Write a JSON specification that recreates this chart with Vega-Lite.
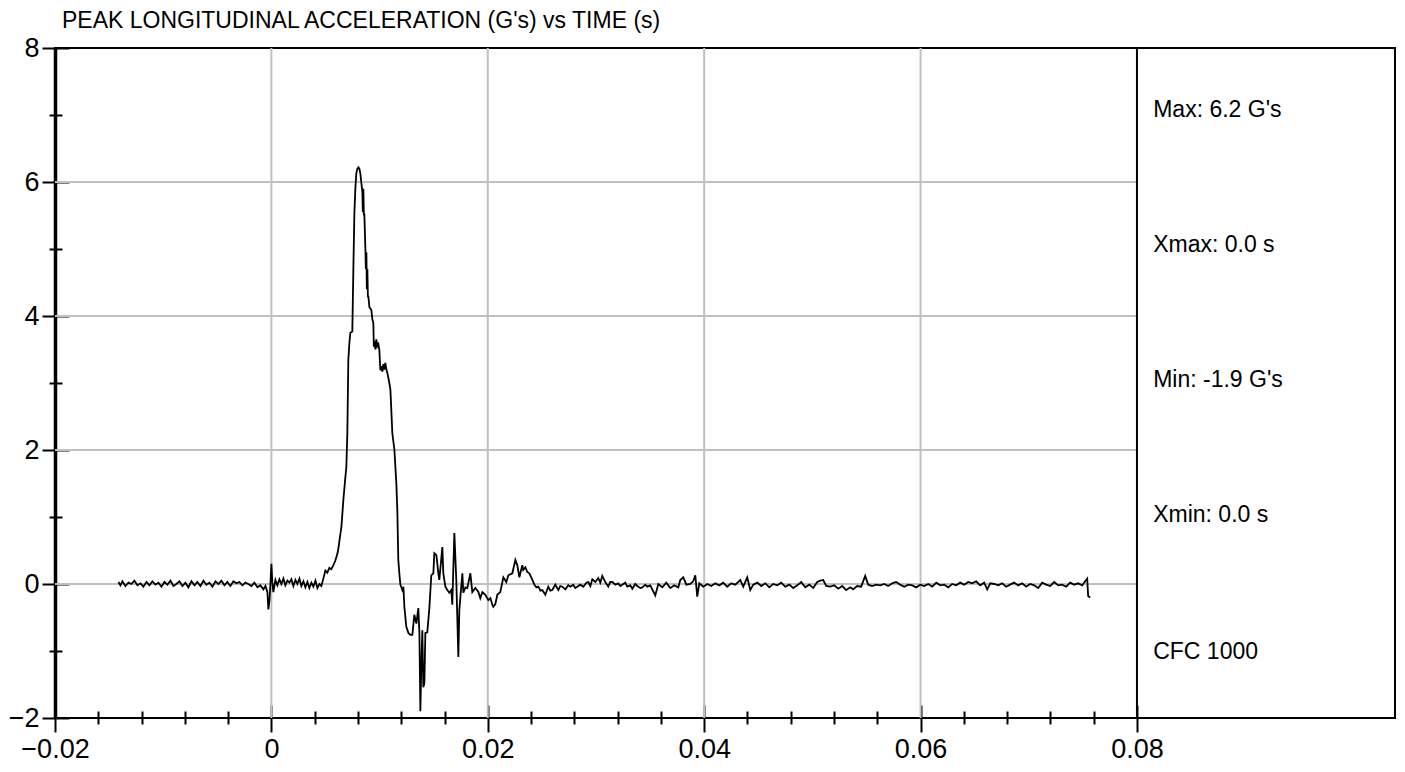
{
"$schema": "https://vega.github.io/schema/vega-lite/v6.json",
"width": 1340,
"height": 670,
"autosize": "none",
"padding": {"left": 55, "top": 48, "right": 10, "bottom": 54},
"background": "white",
"config": {"view": {"stroke": "black", "strokeWidth": 2}, "font": "Liberation Sans"},
"title": {"text": "PEAK LONGITUDINAL ACCELERATION (G's) vs TIME (s)", "anchor": "start", "frame": "group", "font": "'Liberation Sans Narrow', 'Arial Narrow', 'Liberation Sans', sans-serif", "fontSize": 23, "fontWeight": "normal", "color": "black", "dx": 7, "offset": 1},
"datasets": {
"hgrid": [{"gy": 0}, {"gy": 2}, {"gy": 4}, {"gy": 6}],
"vgrid": [{"gx": 0}, {"gx": 0.02}, {"gx": 0.04}, {"gx": 0.06}],
"sep": [{"sx": 0.08}],
"notes": [{"label": "Max: 6.2 G's", "ty": 7.07}, {"label": "Xmax: 0.0 s", "ty": 5.06}, {"label": "Min: -1.9 G's", "ty": 3.04}, {"label": "Xmin: 0.0 s", "ty": 1.03}, {"label": "CFC 1000", "ty": -1.01}],
"accel": [
{"t":-0.01414,"g":0.03},{"t":-0.01395,"g":-0.02},{"t":-0.01377,"g":0.04},{"t":-0.01349,"g":-0.03},{"t":-0.01321,"g":0.02},{"t":-0.01294,"g":0.0},{"t":-0.01266,"g":0.05},{"t":-0.01238,"g":-0.02},{"t":-0.0121,"g":0.01},{"t":-0.01183,"g":-0.04},{"t":-0.01155,"g":0.03},{"t":-0.01127,"g":-0.02},{"t":-0.011,"g":0.04},{"t":-0.01072,"g":-0.01},{"t":-0.01044,"g":0.02},{"t":-0.01016,"g":-0.04},{"t":-0.00989,"g":0.03},{"t":-0.00961,"g":-0.01},{"t":-0.00933,"g":0.05},{"t":-0.00906,"g":-0.03},{"t":-0.00878,"g":0.0},{"t":-0.0085,"g":0.04},{"t":-0.00822,"g":-0.03},{"t":-0.00795,"g":0.02},{"t":-0.00767,"g":-0.05},{"t":-0.00739,"g":0.04},{"t":-0.00711,"g":-0.02},{"t":-0.00684,"g":0.03},{"t":-0.00656,"g":-0.03},{"t":-0.00628,"g":0.05},{"t":-0.00601,"g":-0.01},{"t":-0.00573,"g":0.02},{"t":-0.00545,"g":-0.04},{"t":-0.00517,"g":0.04},{"t":-0.0049,"g":0.0},{"t":-0.00462,"g":0.05},{"t":-0.00434,"g":-0.02},{"t":-0.00407,"g":0.03},{"t":-0.00379,"g":-0.03},{"t":-0.00351,"g":0.04},{"t":-0.00323,"g":0.01},{"t":-0.00296,"g":0.03},{"t":-0.00268,"g":-0.02},{"t":-0.0024,"g":0.02},{"t":-0.00213,"g":0.0},{"t":-0.00185,"g":-0.03},{"t":-0.00157,"g":0.02},{"t":-0.00129,"g":-0.05},{"t":-0.00102,"g":-0.02},{"t":-0.00074,"g":-0.08},{"t":-0.00055,"g":-0.03},{"t":-0.00037,"g":-0.12},{"t":-0.00028,"g":-0.38},{"t":-0.00018,"g":-0.25},{"t":-0.00009,"g":0.0},{"t":0.0,"g":0.3},{"t":0.00009,"g":0.02},{"t":0.00018,"g":-0.12},{"t":0.00037,"g":0.06},{"t":0.00055,"g":-0.02},{"t":0.00074,"g":0.07},{"t":0.00092,"g":0.0},{"t":0.00111,"g":0.08},{"t":0.00129,"g":-0.02},{"t":0.00148,"g":0.05},{"t":0.00166,"g":0.02},{"t":0.00185,"g":0.07},{"t":0.00203,"g":-0.03},{"t":0.00222,"g":0.06},{"t":0.0024,"g":0.0},{"t":0.00259,"g":0.08},{"t":0.00277,"g":-0.03},{"t":0.00296,"g":0.04},{"t":0.00314,"g":-0.05},{"t":0.00333,"g":0.03},{"t":0.00351,"g":-0.06},{"t":0.0037,"g":0.02},{"t":0.00388,"g":-0.04},{"t":0.00407,"g":0.05},{"t":0.00425,"g":-0.06},{"t":0.00444,"g":0.0},{"t":0.00462,"g":-0.03},{"t":0.0048,"g":0.08},{"t":0.00499,"g":0.2},{"t":0.00517,"g":0.17},{"t":0.00536,"g":0.24},{"t":0.00554,"g":0.22},{"t":0.00573,"g":0.28},{"t":0.00591,"g":0.35},{"t":0.0061,"g":0.45},{"t":0.00619,"g":0.53},{"t":0.00638,"g":0.75},{"t":0.00647,"g":0.85},{"t":0.00665,"g":1.25},{"t":0.00684,"g":1.6},{"t":0.00693,"g":1.75},{"t":0.00702,"g":2.25},{"t":0.00711,"g":3.34},{"t":0.00721,"g":3.6},{"t":0.0073,"g":3.75},{"t":0.00748,"g":3.77},{"t":0.00758,"g":4.73},{"t":0.00767,"g":5.53},{"t":0.00776,"g":5.9},{"t":0.00785,"g":6.13},{"t":0.00795,"g":6.2},{"t":0.00804,"g":6.22},{"t":0.00813,"g":6.2},{"t":0.00822,"g":6.13},{"t":0.00832,"g":5.98},{"t":0.00841,"g":5.85},{"t":0.00845,"g":5.55},{"t":0.0085,"g":5.9},{"t":0.00855,"g":5.5},{"t":0.00859,"g":5.53},{"t":0.00869,"g":4.98},{"t":0.00873,"g":4.7},{"t":0.00878,"g":4.95},{"t":0.00882,"g":4.4},{"t":0.00887,"g":4.7},{"t":0.00892,"g":4.28},{"t":0.00896,"g":4.3},{"t":0.00906,"g":4.13},{"t":0.00924,"g":4.09},{"t":0.00933,"g":3.95},{"t":0.00942,"g":3.9},{"t":0.00947,"g":3.54},{"t":0.00952,"g":3.62},{"t":0.00961,"g":3.5},{"t":0.0097,"g":3.65},{"t":0.00979,"g":3.55},{"t":0.00989,"g":3.58},{"t":0.00998,"g":3.49},{"t":0.01007,"g":3.19},{"t":0.01016,"g":3.25},{"t":0.01026,"g":3.17},{"t":0.01035,"g":3.28},{"t":0.01044,"g":3.2},{"t":0.01053,"g":3.3},{"t":0.01063,"g":3.2},{"t":0.01072,"g":3.15},{"t":0.0109,"g":3.0},{"t":0.011,"g":2.9},{"t":0.01118,"g":2.25},{"t":0.01137,"g":2.0},{"t":0.01155,"g":1.5},{"t":0.01164,"g":1.1},{"t":0.01173,"g":0.36},{"t":0.01183,"g":0.15},{"t":0.01192,"g":-0.01},{"t":0.0121,"g":-0.09},{"t":0.0122,"g":-0.04},{"t":0.01229,"g":-0.34},{"t":0.01247,"g":-0.64},{"t":0.01266,"g":-0.73},{"t":0.01284,"g":-0.76},{"t":0.01303,"g":-0.76},{"t":0.01321,"g":-0.46},{"t":0.0134,"g":-0.59},{"t":0.01358,"g":-0.36},{"t":0.01368,"g":-0.73},{"t":0.01377,"g":-1.9},{"t":0.01386,"g":-1.2},{"t":0.01395,"g":-0.69},{"t":0.01404,"g":-1.54},{"t":0.01414,"g":-1.48},{"t":0.01423,"g":-0.73},{"t":0.01441,"g":-0.72},{"t":0.0146,"g":-0.36},{"t":0.01478,"g":0.13},{"t":0.01497,"g":0.16},{"t":0.01506,"g":0.46},{"t":0.01525,"g":0.43},{"t":0.01543,"g":0.16},{"t":0.01552,"g":0.06},{"t":0.0158,"g":0.55},{"t":0.01589,"g":0.16},{"t":0.01608,"g":-0.04},{"t":0.01626,"g":-0.09},{"t":0.01645,"g":-0.13},{"t":0.01663,"g":-0.09},{"t":0.01672,"g":-0.31},{"t":0.01691,"g":0.76},{"t":0.01709,"g":0.06},{"t":0.01728,"g":-1.09},{"t":0.01737,"g":-0.39},{"t":0.01765,"g":0.16},{"t":0.01774,"g":-0.13},{"t":0.01793,"g":-0.05},{"t":0.01811,"g":-0.06},{"t":0.01839,"g":0.16},{"t":0.01857,"g":-0.12},{"t":0.01885,"g":-0.06},{"t":0.01913,"g":-0.12},{"t":0.01931,"g":-0.21},{"t":0.0195,"g":-0.12},{"t":0.01977,"g":-0.16},{"t":0.02005,"g":-0.24},{"t":0.02024,"g":-0.21},{"t":0.02042,"g":-0.31},{"t":0.02051,"g":-0.34},{"t":0.0207,"g":-0.3},{"t":0.02088,"g":-0.16},{"t":0.02116,"g":-0.12},{"t":0.02144,"g":0.1},{"t":0.02171,"g":0.03},{"t":0.0219,"g":0.13},{"t":0.02227,"g":0.16},{"t":0.02255,"g":0.36},{"t":0.02273,"g":0.28},{"t":0.02292,"g":0.1},{"t":0.02319,"g":0.28},{"t":0.02328,"g":0.21},{"t":0.02347,"g":0.25},{"t":0.02365,"g":0.18},{"t":0.02384,"g":0.16},{"t":0.02412,"g":0.06},{"t":0.0243,"g":-0.01},{"t":0.02449,"g":-0.05},{"t":0.02467,"g":-0.04},{"t":0.02486,"g":-0.1},{"t":0.02504,"g":-0.09},{"t":0.02532,"g":-0.16},{"t":0.02559,"g":-0.04},{"t":0.02578,"g":-0.1},{"t":0.02596,"g":-0.09},{"t":0.02624,"g":-0.01},{"t":0.02652,"g":-0.09},{"t":0.0267,"g":-0.03},{"t":0.02689,"g":-0.04},{"t":0.02717,"g":-0.08},{"t":0.02744,"g":-0.02},{"t":0.02763,"g":-0.04},{"t":0.0279,"g":-0.01},{"t":0.02809,"g":-0.06},{"t":0.02827,"g":-0.04},{"t":0.02855,"g":-0.01},{"t":0.02883,"g":-0.04},{"t":0.02911,"g":0.02},{"t":0.02929,"g":0.03},{"t":0.02948,"g":-0.03},{"t":0.02966,"g":0.07},{"t":0.02994,"g":0.03},{"t":0.03021,"g":0.09},{"t":0.0304,"g":0.02},{"t":0.03058,"g":0.12},{"t":0.03086,"g":0.03},{"t":0.03114,"g":-0.04},{"t":0.03132,"g":0.03},{"t":0.03151,"g":0.03},{"t":0.03179,"g":-0.01},{"t":0.03206,"g":0.01},{"t":0.03225,"g":-0.03},{"t":0.03243,"g":-0.01},{"t":0.03271,"g":0.02},{"t":0.03289,"g":-0.04},{"t":0.03317,"g":-0.02},{"t":0.03336,"g":-0.07},{"t":0.03363,"g":0.0},{"t":0.03382,"g":-0.03},{"t":0.0341,"g":-0.06},{"t":0.03428,"g":-0.05},{"t":0.03456,"g":-0.01},{"t":0.03474,"g":-0.04},{"t":0.03502,"g":-0.02},{"t":0.03548,"g":-0.17},{"t":0.03576,"g":0.0},{"t":0.03613,"g":-0.05},{"t":0.0365,"g":0.02},{"t":0.03687,"g":-0.06},{"t":0.03724,"g":-0.02},{"t":0.03761,"g":-0.05},{"t":0.03779,"g":0.06},{"t":0.03807,"g":0.1},{"t":0.03835,"g":-0.01},{"t":0.03872,"g":0.0},{"t":0.03899,"g":0.04},{"t":0.03918,"g":0.13},{"t":0.03936,"g":-0.19},{"t":0.03955,"g":0.01},{"t":0.03992,"g":-0.04},{"t":0.04029,"g":0.0},{"t":0.04066,"g":-0.03},{"t":0.04103,"g":0.01},{"t":0.0414,"g":-0.02},{"t":0.04176,"g":0.02},{"t":0.04213,"g":-0.04},{"t":0.0425,"g":0.01},{"t":0.04287,"g":-0.01},{"t":0.04334,"g":0.06},{"t":0.04361,"g":-0.04},{"t":0.04398,"g":0.1},{"t":0.04426,"g":-0.09},{"t":0.04454,"g":-0.01},{"t":0.04491,"g":0.02},{"t":0.04528,"g":-0.03},{"t":0.04565,"g":0.01},{"t":0.04602,"g":-0.05},{"t":0.04638,"g":0.0},{"t":0.04675,"g":-0.02},{"t":0.04712,"g":0.02},{"t":0.04749,"g":-0.04},{"t":0.04786,"g":-0.01},{"t":0.04823,"g":-0.06},{"t":0.0486,"g":-0.02},{"t":0.04897,"g":0.03},{"t":0.04934,"g":-0.05},{"t":0.04971,"g":-0.01},{"t":0.05008,"g":-0.06},{"t":0.05045,"g":0.03},{"t":0.05073,"g":0.05},{"t":0.051,"g":0.06},{"t":0.05128,"g":-0.03},{"t":0.05165,"g":-0.04},{"t":0.05202,"g":-0.02},{"t":0.05239,"g":-0.07},{"t":0.05276,"g":-0.03},{"t":0.05313,"g":-0.09},{"t":0.0535,"g":-0.05},{"t":0.05377,"g":-0.08},{"t":0.05414,"g":-0.03},{"t":0.05451,"g":-0.04},{"t":0.05488,"g":0.12},{"t":0.05516,"g":-0.01},{"t":0.05553,"g":-0.03},{"t":0.0559,"g":-0.01},{"t":0.05627,"g":-0.02},{"t":0.05664,"g":0.0},{"t":0.05701,"g":-0.03},{"t":0.05738,"g":0.01},{"t":0.05775,"g":0.03},{"t":0.05812,"g":-0.01},{"t":0.05849,"g":-0.04},{"t":0.05886,"g":-0.01},{"t":0.05923,"g":-0.02},{"t":0.0596,"g":-0.05},{"t":0.05997,"g":-0.01},{"t":0.06034,"g":-0.03},{"t":0.06071,"g":0.0},{"t":0.06108,"g":-0.04},{"t":0.06145,"g":0.02},{"t":0.06182,"g":-0.02},{"t":0.06219,"g":-0.01},{"t":0.06256,"g":-0.05},{"t":0.06292,"g":0.0},{"t":0.06329,"g":-0.02},{"t":0.06366,"g":0.02},{"t":0.06403,"g":-0.01},{"t":0.0644,"g":0.03},{"t":0.06477,"g":0.01},{"t":0.06514,"g":0.04},{"t":0.06551,"g":-0.02},{"t":0.06588,"g":0.02},{"t":0.06616,"g":-0.08},{"t":0.06644,"g":0.01},{"t":0.06681,"g":0.0},{"t":0.06718,"g":-0.02},{"t":0.06754,"g":0.01},{"t":0.06791,"g":-0.04},{"t":0.06828,"g":-0.01},{"t":0.06865,"g":0.02},{"t":0.06902,"g":-0.02},{"t":0.06939,"g":0.01},{"t":0.06976,"g":-0.04},{"t":0.07013,"g":0.0},{"t":0.0705,"g":-0.02},{"t":0.07087,"g":-0.06},{"t":0.07124,"g":0.02},{"t":0.07161,"g":-0.01},{"t":0.07198,"g":-0.03},{"t":0.07235,"g":0.03},{"t":0.07272,"g":-0.02},{"t":0.07309,"g":-0.01},{"t":0.07346,"g":-0.04},{"t":0.07383,"g":0.02},{"t":0.0742,"g":-0.01},{"t":0.07457,"g":0.01},{"t":0.07494,"g":-0.02},{"t":0.07521,"g":0.04},{"t":0.0754,"g":0.08},{"t":0.07549,"g":-0.18},{"t":0.07568,"g":-0.2}
]
},
"resolve": {"axis": {"x": "independent", "y": "independent"}},
"layer": [
{
"data": {"name": "hgrid"},
"mark": {"type": "rule", "color": "#c0c0c0", "strokeWidth": 2},
"encoding": {
"y": {"field": "gy", "type": "quantitative", "scale": {"domain": [-2, 8], "nice": false, "zero": false},
"axis": {"orient": "left", "values": [-1, 1, 3, 5, 7], "labels": false, "domain": false, "grid": false, "ticks": true, "tickSize": 13, "offset": -7, "tickColor": "black", "tickWidth": 2, "title": null}},
"x": {"datum": -0.02, "type": "quantitative", "axis": null},
"x2": {"datum": 0.08}
}
},
{
"data": {"name": "vgrid"},
"mark": {"type": "rule", "color": "#c0c0c0", "strokeWidth": 2},
"encoding": {
"x": {"field": "gx", "type": "quantitative", "scale": {"domain": [-0.02, 0.10385], "nice": false, "zero": false},
"axis": {"orient": "bottom", "values": [-0.016, -0.012, -0.008, -0.004, 0.004, 0.008, 0.012, 0.016, 0.024, 0.028, 0.032, 0.036, 0.044, 0.048, 0.052, 0.056, 0.064, 0.068, 0.072, 0.076], "labels": false, "domain": false, "grid": false, "ticks": true, "tickSize": 13, "offset": -7, "tickColor": "black", "tickWidth": 2, "title": null}}
}
},
{
"data": {"name": "sep"},
"mark": {"type": "rule", "color": "black", "strokeWidth": 2},
"encoding": {
"x": {"field": "sx", "type": "quantitative", "axis": null}
}
},
{
"data": {"name": "accel"},
"mark": {"type": "line", "color": "black", "strokeWidth": 1.8, "interpolate": "linear"},
"encoding": {
"x": {"field": "t", "type": "quantitative",
"axis": {"orient": "bottom", "values": [-0.02, 0, 0.02, 0.04, 0.06, 0.08], "format": "~g", "domain": false, "grid": false, "tickSize": 27, "offset": -13, "tickColor": "black", "tickWidth": 2, "labelFontSize": 27, "labelColor": "black", "labelPadding": 4, "labelFlush": false, "labelOverlap": false, "labelBound": false, "labelFont": "Liberation Sans", "title": null}},
"y": {"field": "g", "type": "quantitative",
"axis": {"orient": "left", "values": [-2, 0, 2, 4, 6, 8], "domain": false, "grid": false, "tickSize": 27, "offset": -14, "tickColor": "black", "tickWidth": 2, "labelFontSize": 27, "labelColor": "black", "labelPadding": 3, "labelFlush": false, "labelOverlap": false, "labelBound": false, "labelFont": "Liberation Sans", "title": null}}
}
},
{
"data": {"name": "notes"},
"mark": {"type": "text", "align": "left", "baseline": "middle", "fontSize": 23, "font": "'Liberation Sans Narrow', 'Arial Narrow', 'Liberation Sans', sans-serif", "color": "black"},
"encoding": {
"x": {"datum": 0.0815, "type": "quantitative", "axis": null},
"y": {"field": "ty", "type": "quantitative",
"axis": {"orient": "left", "domain": true, "domainColor": "black", "domainWidth": 3.5, "ticks": false, "labels": false, "grid": false, "title": null}},
"text": {"field": "label"}
}
}
]
}
